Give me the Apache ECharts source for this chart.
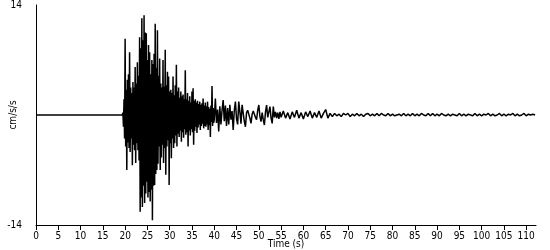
<!DOCTYPE html>
<html>
<head>
<meta charset="utf-8">
<script src="https://cdn.jsdelivr.net/npm/echarts@6/dist/echarts.min.js"></script>
<style>
html,body{margin:0;padding:0;background:#fff;}
#chart{width:550px;height:250px;}
</style>
</head>
<body>
<div id="chart"></div>
<script>
// Pre-event flat segment (time s, acceleration cm/s/s)
const preEventTimes = [0, 19.375];
const preEventValues = [0, 0];

// Strong-motion segment: samples every 0.125 s starting at 19.5 s
const strongStart = 19.5;
const strongStep = 0.125;
const strongValues = [
  0.3, -1.5, 2.0, -3.0, 9.7, -4.0, 3.2, -7.0, 4.5, -3.5, 5.2, -4.2,
  8.0, -4.7, 3.5, -3.0, 2.8, -6.4, 4.2, -3.8, 3.5, -4.5, 6.1, -6.1,
  4.0, -3.6, 6.7, -4.5, 5.0, -5.8, 9.9, -12.3, 8.5, -10.5, 12.3, -11.7,
  9.5, -9.0, 12.7, -11.2, 10.5, -10.0, 10.4, -8.5, 7.0, -10.5, 8.9, -9.8,
  8.0, -11.0, 5.2, -9.5, 7.0, -13.4, 6.5, -9.0, 7.8, -8.9, 11.6, -7.5,
  6.0, -7.0, 10.8, -6.2, 5.0, -4.0, 7.2, -7.0, 4.0, -5.4, 3.5, -3.8,
  7.0, -6.1, 3.6, -4.2, 8.3, -7.6, 3.8, -4.0, 5.5, -3.2, 4.9, -8.9,
  3.0, -3.6, 3.2, -5.5, 2.8, -3.0, 4.9, -4.2, 2.5, -3.6, 3.8, -2.6,
  6.4, -4.0, 3.0, -2.4, 3.5, -2.8, 2.2, -2.0, 3.0, -3.4, 2.4, -2.2,
  2.6, -2.9, 2.0, -1.8, 5.7, -2.5, 2.0, -2.2, 2.8, -4.0, 1.8, -2.0,
  2.4, -2.6, 1.6, -1.8, 3.0, -2.2, 3.4, -3.8, 1.8, -2.0, 2.0, -1.5,
  1.6, -2.3, 1.8, -1.6, 1.4, -1.2, 1.7, -1.9, 1.3, -1.4, 1.5, -1.1,
  2.1, -1.7, 1.2, -1.4, 1.6, -1.5, 1.1, -1.2, 1.7, -1.9, 1.0, -1.3,
  0.8, -2.8, 1.2, -0.9, 3.7, -1.4, 0.9, -1.0
];

// Decay segment: samples every 0.25 s starting at 40 s
const decayStart = 40.0;
const decayStep = 0.25;
const decayValues = [
  -0.6, 2.1,
  -1.0, 0.7, -2.1, 1.1, -1.2, 0.6, 1.9, -0.8, 1.2, -1.4, 0.9, -1.2,
  1.3, -0.6, 0.5, -1.9, 0.6, 1.7, -0.5, -1.2, 1.7, 0.4, -1.1, 1.3,
  0.2, -0.8, -1.5, 0.3, 0.6, 0.85, -0.4, -1.06, 0.1, 0.5, 0.64, -0.3,
  -0.6, 0.6, 1.27, -0.2, -0.85, 0.3, -0.6, -1.27, 0.4, 1.27, -0.3, 0.4,
  1.06, -0.4, -1.06, 1.06, -0.3, 0.4, -0.4, 0.3, -0.5, 0.4
];

// Coda segment: samples every 0.5 s starting at 55 s
const codaStart = 55.0;
const codaStep = 0.5;
const codaValues = [
  -0.3, 0.5, -0.4, 0.3, -0.5, 0.4, -0.3, 0.6, -0.4, 0.3,
  -0.5, 0.4, -0.2, 0.5, -0.4, 0.3, -0.3, 0.5, -0.4, 0.2,
  0.7, -0.4, 0.2, -0.2, 0.2, -0.1, 0.1, -0.2, 0.2, 0.0,
  0.2, -0.2, 0.1, -0.1, 0.2, -0.1, 0.1, -0.2, 0.1, 0.2,
  -0.1, 0.1, -0.1, 0.2, -0.1, 0.2, 0.0, -0.1, 0.2, -0.1,
  0.1, -0.1, 0.0, 0.1, -0.1, 0.2, -0.1, 0.1, -0.1, 0.2,
  -0.1, 0.1, -0.1, 0.2, 0.0, -0.1, 0.2, -0.1, 0.2, -0.1,
  0.1, -0.1, 0.2, 0.0, -0.1, 0.1, -0.1, 0.1, 0.0, -0.1,
  0.2, -0.1, 0.1, -0.1, 0.1, 0.0, -0.1, 0.2, -0.1, 0.1,
  -0.1, 0.1, 0.0, 0.2, -0.1, 0.1, -0.1, 0.0, 0.2, -0.1,
  0.1, -0.1, 0.1, 0.0, 0.2, -0.1, 0.1, -0.1, 0.0, 0.2,
  -0.1, 0.1, 0.0, 0.1, 0.0
];

const yTickLabels = ['-14', '14'];
const xAxisTitle = 'Time (s)';
const yAxisTitle = 'cm/s/s';

const seriesData = [];
preEventTimes.forEach((t, i) => seriesData.push([t, preEventValues[i]]));
strongValues.forEach((v, i) => seriesData.push([strongStart + i * strongStep, v]));
decayValues.forEach((v, i) => seriesData.push([decayStart + i * decayStep, v]));
codaValues.forEach((v, i) => seriesData.push([codaStart + i * codaStep, v]));

const font = 'DejaVu Sans Condensed';
const chart = echarts.init(document.getElementById('chart'), null, {renderer: 'canvas'});
chart.setOption({
  animation: false,
  backgroundColor: '#fff',
  grid: {left: 36, right: 14, top: 5, bottom: 25, containLabel: false, outerBoundsMode: 'none'},
  xAxis: {
    type: 'value', min: 0, max: 112.2, interval: 5,
    name: xAxisTitle, nameLocation: 'middle', nameGap: 14, nameMoveOverlap: false,
    nameTextStyle: {color: '#000', fontFamily: font, fontSize: 10},
    axisLine: {show: true, onZero: false, lineStyle: {color: '#000', width: 1}},
    axisTick: {show: true, length: 5, lineStyle: {color: '#000'}},
    axisLabel: {color: '#000', fontFamily: font, fontSize: 10, margin: 6, showMaxLabel: false},
    splitLine: {show: false}
  },
  yAxis: {
    type: 'value', min: -14, max: 14, interval: 14,
    name: yAxisTitle, nameLocation: 'middle', nameRotate: 90, nameGap: 18, nameMoveOverlap: false,
    nameTextStyle: {color: '#000', fontFamily: font, fontSize: 10},
    axisLine: {show: true, onZero: false, lineStyle: {color: '#000', width: 1}},
    axisTick: {show: false},
    axisLabel: {
      color: '#000', fontFamily: font, fontSize: 10, margin: 14,
      formatter: v => yTickLabels.includes(String(v)) ? String(v) : ''
    },
    splitLine: {show: false}
  },
  series: [{
    type: 'line', data: seriesData, showSymbol: false, sampling: null,
    lineStyle: {color: '#000', width: 1.5}, silent: true
  }]
});
</script>
</body>
</html>
